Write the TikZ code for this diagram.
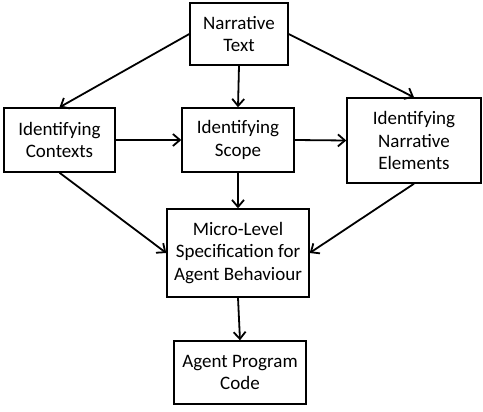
\documentclass[tikz,border=0pt]{standalone}
\usepackage{fontspec}
\setmainfont{Carlito}
\usetikzlibrary{arrows.meta}

\begin{document}
\begin{tikzpicture}[
    x=1pt, y=-1pt,
    stage/.style={draw=black, line width=1.4pt, fill=white, align=center, inner sep=0pt,
        font=\fontsize{19}{22.5}\selectfont},
    flow/.style={-{Straight Barb[length=7pt,width=12pt]}, line width=1.8pt}
]
\useasboundingbox (0,0) rectangle (483,412);

\node at (239, 34) [stage, minimum width=98pt, minimum height=62pt] (text) {Narrative\\Text};
\node at (59.5, 140) [stage, minimum width=111pt, minimum height=64pt] (contexts) {Identifying\\Contexts};
\node at (238, 140) [stage, minimum width=112pt, minimum height=64pt] (scope) {Identifying\\Scope};
\node at (414, 140.5) [stage, minimum width=134pt, minimum height=85pt] (elements) {Identifying\\Narrative\\Elements};
\node at (238, 253) [stage, minimum width=142pt, minimum height=88pt] (micro) {Micro-Level\\Specification for\\Agent Behaviour};
\node at (240, 372.5) [stage, minimum width=132pt, minimum height=63pt] (code) {Agent Program\\Code};

\draw[flow] (text.west) -- (contexts.north);
\draw[flow] (text.south) -- (scope.north);
\draw[flow] (text.east) -- (elements.north);
\draw[flow] (contexts.east) -- (scope.west);
\draw[flow] (scope.east) -- (elements.west);
\draw[flow] (contexts.south) -- (micro.west);
\draw[flow] (scope.south) -- (micro.north);
\draw[flow] (elements.south) -- (micro.east);
\draw[flow] (micro.south) -- (code.north);
\end{tikzpicture}
\end{document}
